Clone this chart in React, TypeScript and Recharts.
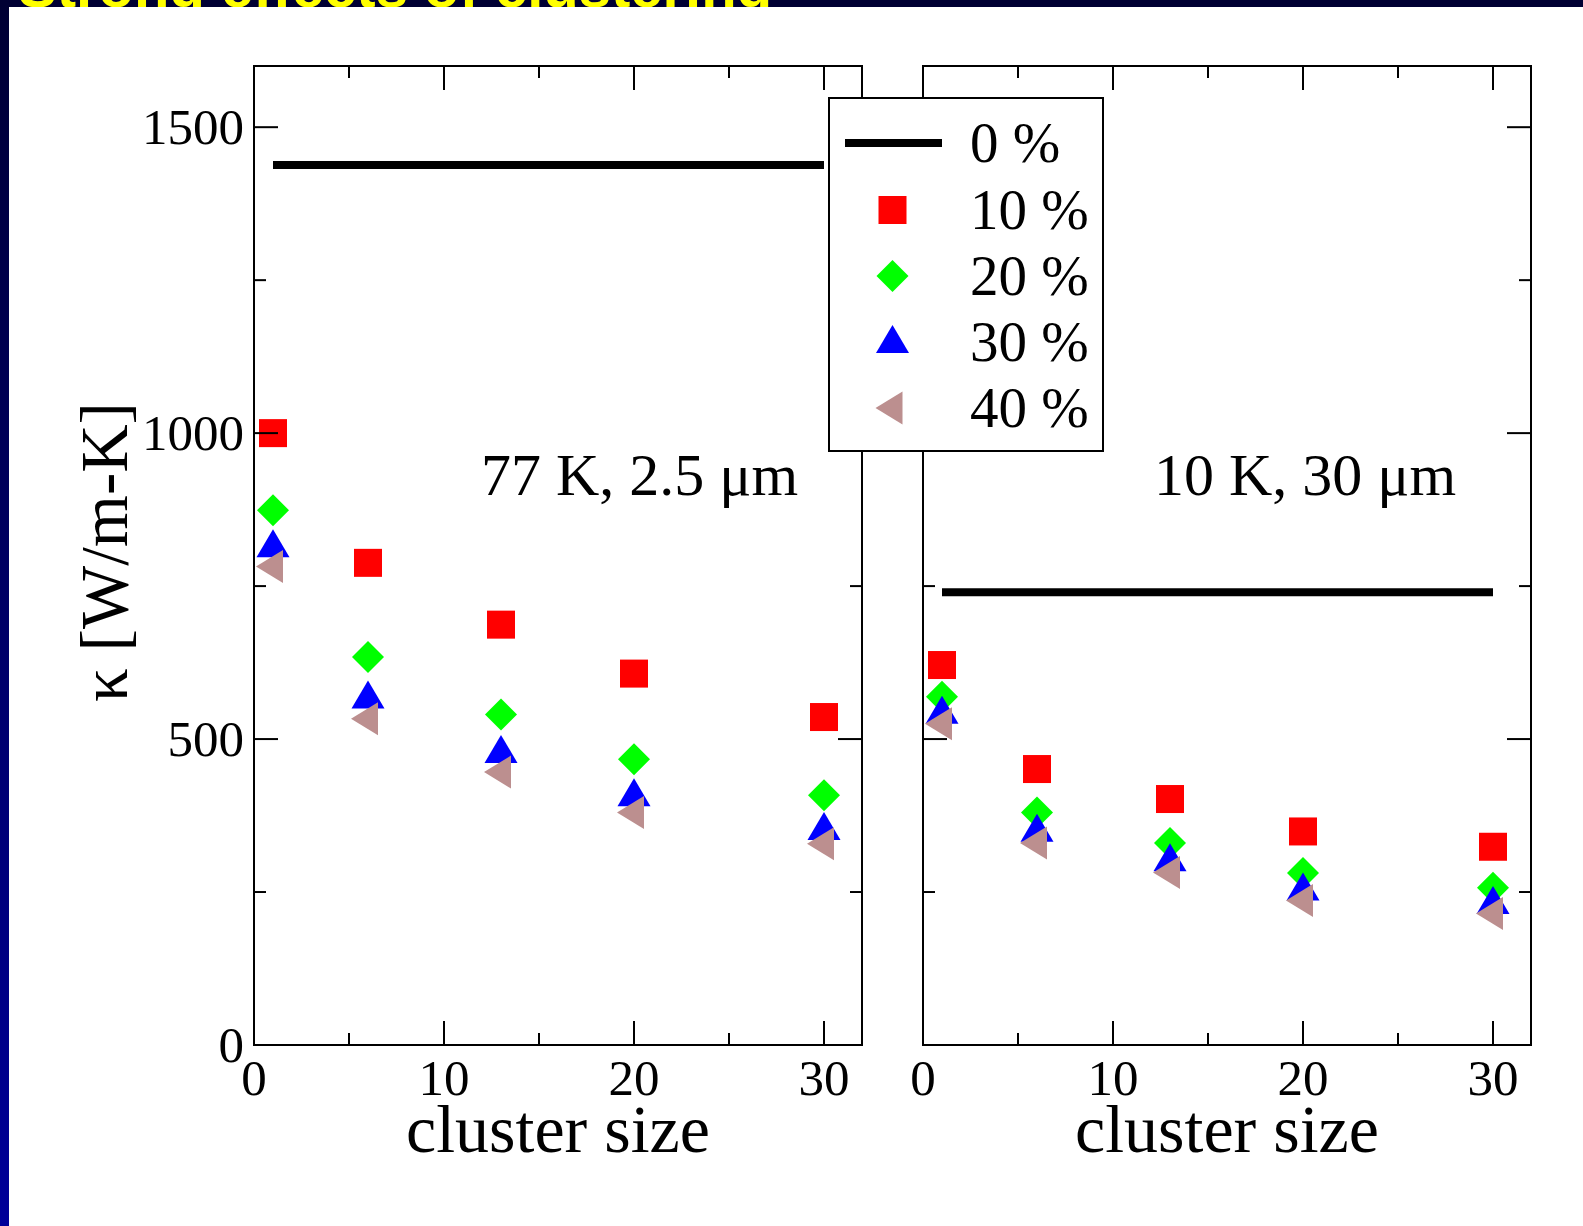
import React from 'react';
import { ComposedChart, Scatter, Line, XAxis, YAxis, ReferenceArea, Legend } from 'recharts';

// ---------- data ----------
const clusterSizes = [1, 6, 13, 20, 30];
const pureRange = [1, 30];

const seriesNames = ['0 %', '10 %', '20 %', '30 %', '40 %'];
const seriesColors = ['#000000', '#ff0000', '#00ff00', '#0000ff', '#bc8f8f'];
const seriesShapes = ['line', 'square', 'diamond', 'triangle', 'left'];

// panel A: 77 K, 2.5 um
const leftTitle = '77 K, 2.5 \u03bcm';
const leftPure = 1438;
const left10 = [1000, 788, 687, 607, 536];
const left20 = [874, 634, 540, 467, 408];
const left30 = [815, 568, 479, 408, 353];
const left40 = [782, 533, 446, 380, 329];

// panel B: 10 K, 30 um
const rightTitle = '10 K, 30 \u03bcm';
const rightPure = 740;
const right10 = [621, 451, 402, 349, 324];
const right20 = [569, 380, 330, 281, 257];
const right30 = [543, 350, 302, 254, 232];
const right40 = [525, 330, 282, 236, 215];

const xTicks = [0, 5, 10, 15, 20, 25, 30];
const xLabelTicks = [0, 10, 20, 30];
const yTicks = [0, 250, 500, 750, 1000, 1250, 1500];
const yLabelTicks = [0, 500, 1000, 1500];
const xDomain = [0, 32];
const yDomain = [0, 1600];
const xTitle = 'cluster size';
const yTitle = '\u03ba [W/m-K]';
const headerText = 'Strong effects of clustering';

// ---------- layout ----------
const CW = 880;
const CH = 1226;
const PLOT_LEFT = 254;
const PLOT_TOP = 66;
const PLOT_RIGHT = 862;
const PLOT_BOTTOM = 1045;
const RIGHT_OFFSET = 669;
const SERIF = "'Liberation Serif', 'Times New Roman', serif";
const TICK_FONT = 51;

const pts = (vals: number[]) => clusterSizes.map((x, i) => ({ x, y: vals[i] }));
const linePts = (v: number) => pureRange.map((x) => ({ x, y: v }));

// ---------- marker shapes ----------
const drawMarker = (kind: string, cx: number, cy: number, fill: string) => {
  if (kind === 'square') return <rect x={cx - 14} y={cy - 14} width={28} height={28} fill={fill} />;
  if (kind === 'diamond')
    return <polygon points={`${cx},${cy - 16} ${cx + 16},${cy} ${cx},${cy + 16} ${cx - 16},${cy}`} fill={fill} />;
  if (kind === 'triangle')
    return <polygon points={`${cx},${cy - 17} ${cx + 16.5},${cy + 11} ${cx - 16.5},${cy + 11}`} fill={fill} />;
  if (kind === 'left')
    return <polygon points={`${cx - 17},${cy} ${cx + 10},${cy - 16.5} ${cx + 10},${cy + 16.5}`} fill={fill} />;
  return null;
};

const makeShape = (kind: string, fill: string) => (p: any) => {
  if (p == null || p.cx == null || p.cy == null) return <g />;
  return <g>{drawMarker(kind, p.cx, p.cy, fill)}</g>;
};

// ---------- ticks ----------
const XTick = (props: any) => {
  const { x, payload } = props;
  const v = payload.value;
  const major = xLabelTicks.includes(v);
  const len = major ? 24 : 12;
  return (
    <g>
      <line x1={x} y1={PLOT_BOTTOM} x2={x} y2={PLOT_BOTTOM - len} stroke="#000" strokeWidth={2} />
      <line x1={x} y1={PLOT_TOP} x2={x} y2={PLOT_TOP + len} stroke="#000" strokeWidth={2} />
      {major && (
        <text x={x} y={PLOT_BOTTOM + 50} textAnchor="middle" fontSize={TICK_FONT} fontFamily={SERIF} fill="#000">
          {v}
        </text>
      )}
    </g>
  );
};

const makeYTick = (showLabels: boolean) => (props: any) => {
  const { y, payload } = props;
  const v = payload.value;
  const major = yLabelTicks.includes(v);
  const len = major ? 24 : 12;
  return (
    <g>
      <line x1={PLOT_LEFT} y1={y} x2={PLOT_LEFT + len} y2={y} stroke="#000" strokeWidth={2} />
      <line x1={PLOT_RIGHT - len} y1={y} x2={PLOT_RIGHT} y2={y} stroke="#000" strokeWidth={2} />
      {showLabels && major && (
        <text x={PLOT_LEFT - 10} y={y + 17} textAnchor="end" fontSize={TICK_FONT} fontFamily={SERIF} fill="#000">
          {v}
        </text>
      )}
    </g>
  );
};

// ---------- legend ----------
const legendRows = [46, 113, 179, 245, 311];
const LegendBox = () => (
  <svg width={276} height={355} style={{ display: 'block' }}>
    <rect x={1} y={1} width={274} height={353} fill="#fff" stroke="#000" strokeWidth={2} />
    {seriesNames.map((name, i) => {
      const cy = legendRows[i];
      return (
        <g key={name}>
          {seriesShapes[i] === 'line' ? (
            <line x1={17} y1={cy} x2={114} y2={cy} stroke={seriesColors[i]} strokeWidth={8} />
          ) : (
            drawMarker(seriesShapes[i], 64.5, cy, seriesColors[i])
          )}
          <text x={142} y={cy + 19} fontSize={57} fontFamily={SERIF} fill="#000">
            {name}
          </text>
        </g>
      );
    })}
  </svg>
);

// ---------- panel ----------
type PanelProps = {
  pure: number;
  s10: number[];
  s20: number[];
  s30: number[];
  s40: number[];
  title: string;
  titleX: number;
  showYLabels: boolean;
  showLegend: boolean;
};

const Panel = ({ pure, s10, s20, s30, s40, title, titleX, showYLabels, showLegend }: PanelProps) => {
  const series = [s10, s20, s30, s40];
  return (
    <ComposedChart
      width={CW}
      height={CH}
      margin={{ top: PLOT_TOP, right: CW - PLOT_RIGHT, bottom: CH - PLOT_BOTTOM - 100, left: PLOT_LEFT - 100 }}
    >
      <XAxis
        dataKey="x"
        type="number"
        domain={xDomain}
        ticks={xTicks}
        interval={0}
        height={100}
        axisLine={false}
        tickLine={false}
        tickSize={0}
        tickMargin={0}
        tick={<XTick />}
        allowDataOverflow
      />
      <YAxis
        dataKey="y"
        type="number"
        domain={yDomain}
        ticks={yTicks}
        interval={0}
        width={100}
        axisLine={false}
        tickLine={false}
        tickSize={0}
        tickMargin={0}
        tick={makeYTick(showYLabels)}
        allowDataOverflow
      />
      <ReferenceArea x1={0} x2={32} y1={0} y2={1600} fill="none" stroke="#000" strokeWidth={2} fillOpacity={0} ifOverflow="visible" />
      <Line
        data={linePts(pure)}
        dataKey="y"
        name={seriesNames[0]}
        stroke={seriesColors[0]}
        strokeWidth={8}
        dot={false}
        activeDot={false}
        isAnimationActive={false}
      />
      {series.map((s, i) => (
        <Scatter
          key={seriesNames[i + 1]}
          name={seriesNames[i + 1]}
          data={pts(s)}
          dataKey="y"
          fill={seriesColors[i + 1]}
          shape={makeShape(seriesShapes[i + 1], seriesColors[i + 1])}
          isAnimationActive={false}
        />
      ))}
      <text x={titleX} y={495} fontSize={60} fontFamily={SERIF} fill="#000">
        {title}
      </text>
      <text x={(PLOT_LEFT + PLOT_RIGHT) / 2} y={1152} textAnchor="middle" fontSize={68} fontFamily={SERIF} fill="#000">
        {xTitle}
      </text>
      {showYLabels && (
        <text
          x={104}
          y={552}
          transform="rotate(-90, 104, 552)"
          textAnchor="middle"
          dominantBaseline="central"
          fontSize={67}
          fontFamily={SERIF}
          fill="#000"
        >
          {yTitle}
        </text>
      )}
      {showLegend && (
        <Legend
          layout="vertical"
          align="center"
          verticalAlign="middle"
          wrapperStyle={{ position: 'absolute', left: 828 - RIGHT_OFFSET, top: 97, width: 276, height: 355 }}
          content={() => <LegendBox />}
        />
      )}
    </ComposedChart>
  );
};

export default function App() {
  return (
    <div
      style={{
        position: 'absolute',
        left: 0,
        top: 0,
        width: 1583,
        height: 1226,
        background: '#fff',
        overflow: 'hidden',
      }}
    >
      <div style={{ position: 'absolute', left: 0, top: 0, width: CW, height: CH }}>
        <Panel pure={leftPure} s10={left10} s20={left20} s30={left30} s40={left40} title={leftTitle} titleX={481} showYLabels showLegend={false} />
      </div>
      <div style={{ position: 'absolute', left: RIGHT_OFFSET, top: 0, width: CW, height: CH }}>
        <Panel pure={rightPure} s10={right10} s20={right20} s30={right30} s40={right40} title={rightTitle} titleX={485} showYLabels={false} showLegend />
      </div>
      <div
        style={{
          position: 'absolute',
          left: 0,
          top: 0,
          width: 1583,
          height: 7,
          background: '#000033',
          overflow: 'hidden',
        }}
      >
        <div
          style={{
            position: 'absolute',
            left: 18,
            top: -42,
            whiteSpace: 'nowrap',
            fontFamily: "'Liberation Sans', Arial, sans-serif",
            fontWeight: 'bold',
            fontSize: 58,
            lineHeight: '58px',
            color: '#ffff00',
          }}
        >
          {headerText}
        </div>
      </div>
      <div
        style={{
          position: 'absolute',
          left: 0,
          top: 0,
          width: 9,
          height: 1226,
          background: 'linear-gradient(to bottom, #000033, #000099)',
        }}
      />
    </div>
  );
}
